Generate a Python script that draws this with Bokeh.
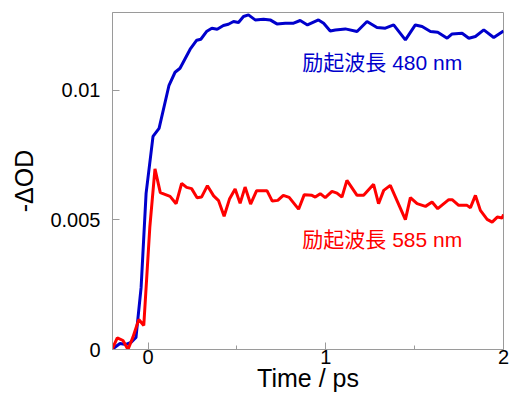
from bokeh.plotting import figure
from bokeh.models import Range1d, FixedTicker, CustomJSTickFormatter, Label
from bokeh.embed import file_html
from bokeh.resources import INLINE

# Time axis (ps) and -ΔOD values
blue_t = [-0.203, -0.158, -0.124, -0.096, -0.068, -0.039, -0.011, 0.028, 0.062, 0.118,
          0.152, 0.180, 0.237, 0.274, 0.297, 0.331, 0.359, 0.389, 0.424, 0.452,
          0.481, 0.509, 0.537, 0.565, 0.603, 0.650, 0.687, 0.725, 0.772, 0.819,
          0.856, 0.897, 0.959, 0.988, 1.025, 1.054, 1.110, 1.176, 1.232, 1.288,
          1.335, 1.382, 1.448, 1.504, 1.542, 1.589, 1.630, 1.683, 1.711, 1.767,
          1.805, 1.842, 1.889, 1.945, 2.000]
blue_od = [0.0, 0.000232, 0.000193, 0.000270, 0.000463, 0.002394, 0.006023, 0.008224, 0.008533, 0.010193,
           0.010695, 0.010849, 0.011583, 0.011930, 0.011969, 0.012278, 0.012394, 0.012355, 0.012498, 0.012548,
           0.012652, 0.012614, 0.012846, 0.012907, 0.012714, 0.012741, 0.012714, 0.012560, 0.012587, 0.012587,
           0.012691, 0.012521, 0.012714, 0.012587, 0.012290, 0.012328, 0.012367, 0.012266, 0.012652, 0.012421,
           0.012394, 0.012521, 0.011942, 0.012521, 0.012459, 0.012266, 0.012239, 0.012008, 0.012174, 0.012201,
           0.012008, 0.012073, 0.012328, 0.012035, 0.012290]

red_t = [-0.203, -0.173, -0.141, -0.113, -0.085, -0.052, -0.024, 0.010, 0.039, 0.069,
         0.124, 0.158, 0.189, 0.217, 0.245, 0.276, 0.301, 0.334, 0.369, 0.397,
         0.428, 0.459, 0.490, 0.518, 0.546, 0.577, 0.611, 0.669, 0.699, 0.730,
         0.761, 0.794, 0.847, 0.879, 0.922, 0.941, 0.969, 0.997, 1.035, 1.063,
         1.091, 1.119, 1.176, 1.213, 1.269, 1.297, 1.326, 1.363, 1.448, 1.476,
         1.514, 1.561, 1.598, 1.630, 1.692, 1.711, 1.748, 1.795, 1.814, 1.842,
         1.870, 1.908, 1.936, 1.965, 1.993, 2.000]
red_od = [0.0, 0.000452, 0.000347, 0.0, 0.000475, 0.001158, 0.000927, 0.004722, 0.006969, 0.006050,
          0.005907, 0.005625, 0.006409, 0.006255, 0.006205, 0.005857, 0.005880, 0.006320, 0.005927, 0.005741,
          0.005143, 0.005819, 0.006189, 0.005637, 0.006266, 0.005610, 0.006127, 0.006127, 0.005726, 0.005753,
          0.005946, 0.005869, 0.005413, 0.005973, 0.005946, 0.005880, 0.006012, 0.005857, 0.006100, 0.006035,
          0.005880, 0.006525, 0.005946, 0.005946, 0.006371, 0.005625, 0.006139, 0.006332, 0.005008, 0.005857,
          0.005625, 0.005521, 0.005687, 0.005432, 0.005780, 0.005780, 0.005560, 0.005560, 0.005471, 0.005946,
          0.005367, 0.005019, 0.004915, 0.005108, 0.005070, 0.005212]

x_ticks = [0, 1, 2]
x_minor = [0.5, 1.5]
y_ticks = [0, 0.005, 0.01]

label_blue = "励起波長 480 nm"
label_red = "励起波長 585 nm"

FONT = "Liberation Sans"
TFONT = "'Liberation Sans', 'Noto Sans CJK JP'"
GRAY = "#9a9a9a"
BLUE = "#0000cc"
RED = "#ff0000"

p = figure(width=513, height=394, x_range=Range1d(-0.2, 2.0), y_range=Range1d(0, 0.013),
           output_backend="svg", toolbar_location=None,
           min_border_left=112, min_border_right=10, min_border_top=12, min_border_bottom=45)

p.grid.visible = False
p.outline_line_color = GRAY
p.background_fill_color = "white"
p.border_fill_color = "white"

xa = p.xaxis[0]
xa.ticker = FixedTicker(ticks=x_ticks, minor_ticks=x_minor)
xa.major_tick_in = 7
xa.major_tick_out = 0
xa.minor_tick_in = 4
xa.minor_tick_out = 0
xa.axis_line_color = GRAY
xa.major_tick_line_color = GRAY
xa.minor_tick_line_color = GRAY
xa.major_label_text_font = FONT
xa.major_label_text_font_size = "20px"
xa.major_label_text_color = "black"
xa.major_label_standoff = 0
xa.axis_label = "Time / ps"
xa.axis_label_text_font = FONT
xa.axis_label_text_font_size = "25px"
xa.axis_label_text_font_style = "normal"
xa.axis_label_text_color = "black"
xa.axis_label_standoff = -3

ya = p.yaxis[0]
ya.ticker = FixedTicker(ticks=y_ticks, minor_ticks=[])
ya.formatter = CustomJSTickFormatter(code="return tick == 0 ? '0' : String(+tick.toFixed(4));")
ya.major_tick_in = 7
ya.major_tick_out = 0
ya.minor_tick_line_color = None
ya.axis_line_color = GRAY
ya.major_tick_line_color = GRAY
ya.major_label_text_font = FONT
ya.major_label_text_font_size = "20px"
ya.major_label_text_color = "black"
ya.major_label_standoff = 12
ya.axis_label = "-ΔOD"
ya.axis_label_text_font = FONT
ya.axis_label_text_font_size = "25px"
ya.axis_label_text_font_style = "normal"
ya.axis_label_text_color = "black"
ya.axis_label_standoff = 9

p.line(blue_t, blue_od, line_color=BLUE, line_width=3)
p.line(red_t, red_od, line_color=RED, line_width=3)

p.add_layout(Label(x=0.868, y=0.01107, text=label_blue, text_font=TFONT, text_font_size="21px",
                   text_color=BLUE, text_baseline="middle", text_align="left"))
p.add_layout(Label(x=0.868, y=0.004244, text=label_red, text_font=TFONT, text_font_size="21px",
                   text_color=RED, text_baseline="middle", text_align="left"))

open("out.html", "w").write(file_html(p, INLINE))
